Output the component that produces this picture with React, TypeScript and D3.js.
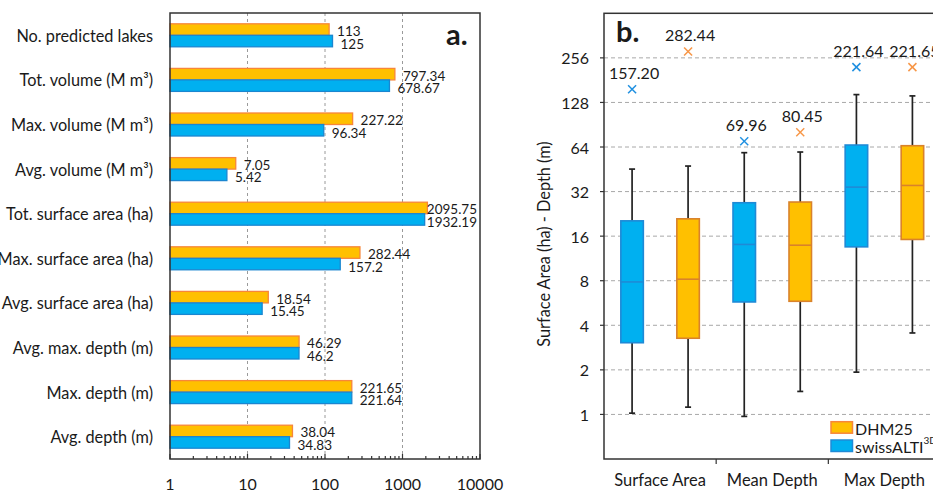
import React from "react";
import * as d3 from "d3";

// ---------- Panel a data ----------
const categories = [
  "No. predicted lakes",
  "Tot. volume (M m³)",
  "Max. volume (M m³)",
  "Avg. volume (M m³)",
  "Tot. surface area (ha)",
  "Max. surface area (ha)",
  "Avg. surface area (ha)",
  "Avg. max. depth (m)",
  "Max. depth (m)",
  "Avg. depth (m)",
];
const dhm25Values = [113, 797.34, 227.22, 7.05, 2095.75, 282.44, 18.54, 46.29, 221.65, 38.04];
const swissValues = [125, 678.67, 96.34, 5.42, 1932.19, 157.2, 15.45, 46.2, 221.64, 34.83];
const xTicks = [1, 10, 100, 1000, 10000];
const seriesNames = ["DHM25", "swissALTI3D"];

// ---------- Panel b data ----------
const boxGroups = ["Surface Area", "Mean Depth", "Max Depth"];
const swissLow = [1.02, 0.97, 1.93];
const swissQ1 = [3.05, 5.75, 13.55];
const swissMedian = [7.85, 14.06, 34.3];
const swissQ3 = [20.3, 26.9, 66];
const swissHigh = [45.4, 58.6, 144.6];
const swissOutlier = [157.2, 69.96, 221.64];
const dhmLow = [1.12, 1.43, 3.55];
const dhmQ1 = [3.27, 5.81, 15.2];
const dhmMedian = [8.19, 13.9, 35.2];
const dhmQ3 = [20.95, 27.2, 65.3];
const dhmHigh = [47.6, 59.2, 141.7];
const dhmOutlier = [282.44, 80.45, 221.65];
const yTicks = [1, 2, 4, 8, 16, 32, 64, 128, 256];

const FONT = "Lato, 'Open Sans', sans-serif";
const ORANGE_FILL = "#FFC000";
const ORANGE_STROKE = "#F7863A";
const BLUE_FILL = "#00B0F0";
const BLUE_STROKE = "#1A86D0";
const BOX_ORANGE_STROKE = "#D9822B";
const BOX_BLUE_STROKE = "#1F8AD6";
const TEXT = "#1a1a1a";
const LABEL_SIZE = 13.5;

function PanelA() {
  const L = 170, R = 480, T = 13, B = 459;
  const x = d3.scaleLog().domain([1, 10000]).range([L, R]);
  const y = d3.scaleBand<string>().domain(categories).range([T, B]);
  const inner = d3
    .scaleBand<string>()
    .domain(seriesNames)
    .range([0, y.bandwidth()])
    .paddingOuter(0.94)
    .paddingInner(0);
  const minor: number[] = [];
  for (let d = 1; d < 10000; d *= 10) for (let k = 2; k <= 9; k++) minor.push(d * k);

  const labelPos = (v: number) => {
    const s = String(v);
    const w = s.length * LABEL_SIZE * 0.56;
    const x0 = x(v) + 8;
    if (x0 + w > R - 4) return { x: R - 3, anchor: "end" as const, s };
    return { x: x0, anchor: "start" as const, s };
  };

  return (
    <g>
      {[10, 100, 1000].map((t) => (
        <line key={t} x1={x(t)} x2={x(t)} y1={T} y2={B} stroke="#9a9a9a" strokeDasharray="3,3" strokeWidth={1} />
      ))}
      {categories.map((c, i) => {
        const y0 = y(c)!;
        const yo = y0 + inner("DHM25")!;
        const yb = y0 + inner("swissALTI3D")!;
        const h = inner.bandwidth();
        const vo = dhm25Values[i];
        const vb = swissValues[i];
        const lo = labelPos(vo);
        const lb = labelPos(vb);
        return (
          <g key={c}>
            <rect x={x(1)} y={yo} width={x(vo) - x(1)} height={h} fill={ORANGE_FILL} stroke={ORANGE_STROKE} strokeWidth={1.3} />
            <rect x={x(1)} y={yb} width={x(vb) - x(1)} height={h} fill={BLUE_FILL} stroke={BLUE_STROKE} strokeWidth={1.3} />
            <text x={lo.x} y={yo + h / 2 + 1.5} textAnchor={lo.anchor} dominantBaseline="central" fontSize={LABEL_SIZE} fill={TEXT}>{lo.s}</text>
            <text x={lb.x} y={yb + h / 2 + 2.5} textAnchor={lb.anchor} dominantBaseline="central" fontSize={LABEL_SIZE} fill={TEXT}>{lb.s}</text>
            <text x={153} y={y0 + y.bandwidth() / 2} dominantBaseline="central" textAnchor="end" fontSize={16.3} fill={TEXT}>{c}</text>
          </g>
        );
      })}
      <rect x={L} y={T} width={R - L} height={B - T} fill="none" stroke="#333" strokeWidth={1.5} />
      {minor.map((t) => (
        <line key={"m" + t} x1={x(t)} x2={x(t)} y1={B} y2={B - 3} stroke="#333" strokeWidth={1.2} />
      ))}
      {xTicks.map((t) => (
        <g key={"t" + t}>
          <line x1={x(t)} x2={x(t)} y1={B} y2={B - 5} stroke="#333" strokeWidth={1.2} />
          <text x={x(t)} y={483} textAnchor="middle" dominantBaseline="central" fontSize={16} fill={TEXT}>{String(t)}</text>
        </g>
      ))}
      <text x={446} y={45} fontSize={29} fontWeight="bold" fill={TEXT}>a.</text>
    </g>
  );
}

function XMark({ cx, cy, color }: { cx: number; cy: number; color: string }) {
  const s = 4;
  return (
    <g stroke={color} strokeWidth={1.5}>
      <line x1={cx - s} y1={cy - s} x2={cx + s} y2={cy + s} />
      <line x1={cx - s} y1={cy + s} x2={cx + s} y2={cy - s} />
    </g>
  );
}

function Box({
  cx, low, q1, med, q3, high, out, y, fill, stroke, markColor,
}: {
  cx: number; low: number; q1: number; med: number; q3: number; high: number; out: number;
  y: d3.ScaleLogarithmic<number, number>; fill: string; stroke: string; markColor: string;
}) {
  const w = 22.5;
  return (
    <g>
      <line x1={cx} x2={cx} y1={y(high)} y2={y(q3)} stroke="#222" strokeWidth={1.7} />
      <line x1={cx} x2={cx} y1={y(q1)} y2={y(low)} stroke="#222" strokeWidth={1.7} />
      <line x1={cx - 3} x2={cx + 3} y1={y(high)} y2={y(high)} stroke="#222" strokeWidth={1.7} />
      <line x1={cx - 3} x2={cx + 3} y1={y(low)} y2={y(low)} stroke="#222" strokeWidth={1.7} />
      <rect x={cx - w / 2} y={y(q3)} width={w} height={y(q1) - y(q3)} fill={fill} stroke={stroke} strokeWidth={1.6} />
      <line x1={cx - w / 2} x2={cx + w / 2} y1={y(med)} y2={y(med)} stroke={stroke} strokeWidth={1.6} />
      <XMark cx={cx} cy={y(out)} color={markColor} />
      <text x={cx + 2} y={y(out) - 17} textAnchor="middle" dominantBaseline="central" fontSize={16} fill={TEXT}>{out.toFixed(2)}</text>
    </g>
  );
}

function PanelB() {
  const L = 604, R = 940.5, T = 13.3, B = 459;
  const y = d3.scaleLog().base(2).domain([0.5, 512]).range([B, T]);
  const x = d3.scaleBand<string>().domain(boxGroups).range([L, R]);
  const off = 28;
  return (
    <g>
      {yTicks.map((t) => (
        <g key={t}>
          <line x1={L} x2={R} y1={y(t)} y2={y(t)} stroke="#a8a8a8" strokeDasharray="4,3" strokeWidth={1} />
          <line x1={L - 4} x2={L} y1={y(t)} y2={y(t)} stroke="#333" strokeWidth={1.2} />
          <text x={589} y={y(t)} textAnchor="end" dominantBaseline="central" fontSize={16} fill={TEXT}>{String(t)}</text>
        </g>
      ))}
      {boxGroups.map((g, i) => {
        const c = x(g)! + x.bandwidth() / 2;
        return (
          <g key={g}>
            <Box cx={c - off} low={swissLow[i]} q1={swissQ1[i]} med={swissMedian[i]} q3={swissQ3[i]} high={swissHigh[i]} out={swissOutlier[i]} y={y} fill={BLUE_FILL} stroke={BOX_BLUE_STROKE} markColor="#1E8FE0" />
            <Box cx={c + off} low={dhmLow[i]} q1={dhmQ1[i]} med={dhmMedian[i]} q3={dhmQ3[i]} high={dhmHigh[i]} out={dhmOutlier[i]} y={y} fill={ORANGE_FILL} stroke={BOX_ORANGE_STROKE} markColor="#F79646" />
            <text x={c} y={480} textAnchor="middle" dominantBaseline="central" fontSize={16.5} fill={TEXT}>{g}</text>
            {i > 0 && <line x1={x(g)!} x2={x(g)!} y1={B} y2={B + 5} stroke="#333" strokeWidth={1.2} />}
          </g>
        );
      })}
      <rect x={L} y={T} width={R - L} height={B - T} fill="none" stroke="#333" strokeWidth={1.5} />
      <text transform={`translate(543,244) rotate(-90)`} textAnchor="middle" dominantBaseline="central" fontSize={16.3} fill={TEXT}>Surface Area (ha) - Depth (m)</text>
      <text x={616} y={42} fontSize={29} fontWeight="bold" fill={TEXT}>b.</text>
      {/* legend */}
      <rect x={831} y={421.7} width={21.5} height={11.5} fill={ORANGE_FILL} stroke={ORANGE_STROKE} strokeWidth={1.5} />
      <text x={855} y={428} dominantBaseline="central" fontSize={16} fill={TEXT}>DHM25</text>
      <rect x={831} y={440} width={21.5} height={11.5} fill={BLUE_FILL} stroke={BOX_BLUE_STROKE} strokeWidth={1.5} />
      <text x={855} y={446} dominantBaseline="central" fontSize={16} fill={TEXT}>
        swissALTI<tspan fontSize={10} dy={-6}>3D</tspan>
      </text>
    </g>
  );
}

export default function App() {
  return (
    <svg width={933} height={491} style={{ position: "absolute", left: 0, top: 0, background: "#fff" }} fontFamily={FONT}>
      <rect x={0} y={0} width={933} height={491} fill="#fff" />
      <PanelA />
      <PanelB />
    </svg>
  );
}
